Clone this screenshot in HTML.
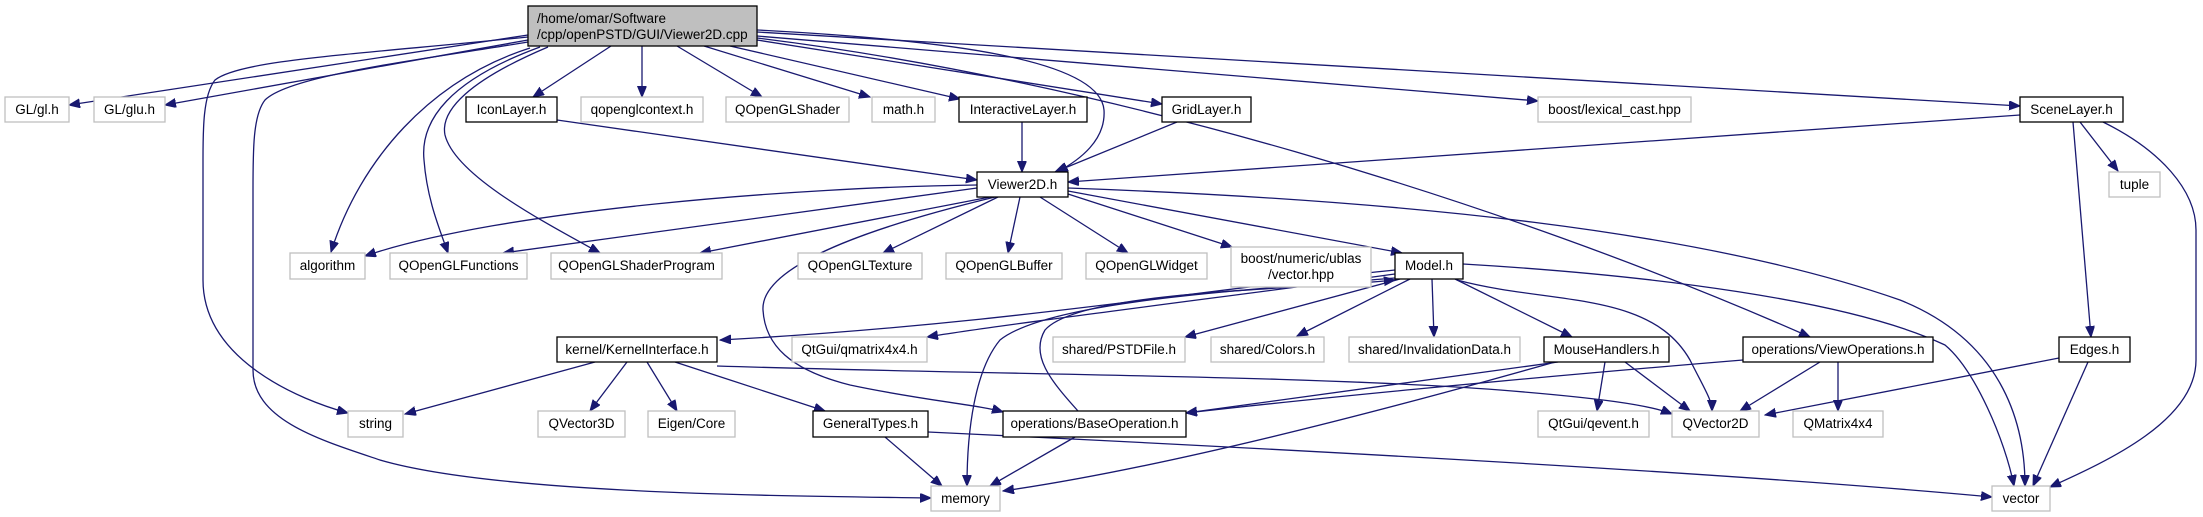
<!DOCTYPE html>
<html><head><meta charset="utf-8"><style>
html,body{margin:0;padding:0;background:#fff;}
svg{display:block;}
text{font-family:"Liberation Sans",Arial,sans-serif;font-size:13.5px;fill:#000;}
.e{fill:none;stroke:#191970;stroke-width:1.3;}
.g{fill:#fff;stroke:#bfbfbf;stroke-width:1.3;}
.b{fill:#fff;stroke:#000;stroke-width:1.3;}
</style></head><body>
<svg width="2203" height="517" viewBox="0 0 2203 517" xmlns="http://www.w3.org/2000/svg">
<defs>
<marker id="a" markerWidth="12" markerHeight="10" refX="11" refY="4.5" orient="auto" markerUnits="userSpaceOnUse">
<path d="M0,0 L11,4.5 L0,9 z" fill="#191970" stroke="#191970"/>
</marker>
</defs>
<g marker-end="url(#a)">
<!-- root edges -->
<path class="e" d="M528,35 L69,105"/>
<path class="e" d="M528,40 L165,105"/>
<path class="e" d="M528,37 C350,55 240,60 215,80 C203,95 203,130 203,160 L203,280 C203,360 300,400 348,413"/>
<path class="e" d="M528,42 C420,60 290,75 265,100 C253,115 253,150 253,190 L253,370 C253,420 320,440 380,460 C500,495 800,496 931,498"/>
<path class="e" d="M530,48 C430,80 360,160 331,252"/>
<path class="e" d="M540,47 C450,80 420,120 424,160 C427,200 440,230 448,253"/>
<path class="e" d="M548,47 C470,80 440,110 445,135 C455,175 540,220 600,253"/>
<path class="e" d="M611,46 L533,97"/>
<path class="e" d="M642,46 L642,97"/>
<path class="e" d="M677,46 L762,97"/>
<path class="e" d="M704,46 L870,97"/>
<path class="e" d="M730,46 L960,99"/>
<path class="e" d="M757,30 C950,40 1100,60 1104,110 C1106,140 1080,160 1057,172"/>
<path class="e" d="M757,40 L1162,104"/>
<path class="e" d="M757,36 L1538,101"/>
<path class="e" d="M757,32 L2020,106"/>
<path class="e" d="M757,38 C1100,80 1500,200 1810,337"/>
<!-- into Viewer2D -->
<path class="e" d="M2020,115 L1068,182"/>
<path class="e" d="M557,120 L977,180"/>
<path class="e" d="M1022,122 L1022,172"/>
<path class="e" d="M1177,122 L1055,172"/>
<!-- Viewer2D edges -->
<path class="e" d="M977,185 C800,187 500,210 365,256"/>
<path class="e" d="M977,188 L503,253"/>
<path class="e" d="M990,197 L700,253"/>
<path class="e" d="M998,197 L883,253"/>
<path class="e" d="M1020,197 L1008,253"/>
<path class="e" d="M1040,197 L1128,253"/>
<path class="e" d="M1068,194 L1232,247"/>
<path class="e" d="M1068,191 L1402,253"/>
<path class="e" d="M995,197 C900,220 760,260 763,310 C765,345 790,370 850,385 C920,400 980,405 1003,412"/>
<path class="e" d="M1068,188 C1400,200 1700,230 1900,300 C2000,340 2025,420 2025,486"/>
<!-- Model edges -->
<path class="e" d="M1395,270 C1200,290 1000,325 720,340"/>
<path class="e" d="M1395,274 C1200,300 1000,325 927,337"/>
<path class="e" d="M1400,279 L1185,337"/>
<path class="e" d="M1410,279 L1297,336"/>
<path class="e" d="M1432,279 L1434,337"/>
<path class="e" d="M1455,279 L1572,337"/>
<path class="e" d="M1457,280 C1550,305 1650,290 1690,360 C1705,390 1712,400 1712,411"/>
<path class="e" d="M1463,264 C1650,275 1850,300 1945,345 C1975,370 2005,440 2014,486"/>
<path class="e" d="M1395,278 C1250,290 1050,300 1000,340 C975,370 967,430 967,486"/>
<path class="e" d="M1078,411 C1050,380 1030,355 1045,330 C1080,290 1300,290 1395,280"/>
<!-- kernel edges -->
<path class="e" d="M595,362 L405,414"/>
<path class="e" d="M627,362 L590,411"/>
<path class="e" d="M647,362 L677,411"/>
<path class="e" d="M675,362 L825,411"/>
<path class="e" d="M717,366 C1000,375 1300,375 1500,390 C1600,398 1650,405 1672,414"/>
<!-- GeneralTypes / BaseOperation -->
<path class="e" d="M885,437 L942,486"/>
<path class="e" d="M928,432 C1200,445 1700,470 1992,497"/>
<path class="e" d="M1075,437 L990,486"/>
<!-- MouseHandlers -->
<path class="e" d="M1558,362 L1186,413"/>
<path class="e" d="M1555,362 C1350,420 1150,470 1003,491"/>
<path class="e" d="M1605,362 L1597,411"/>
<path class="e" d="M1625,362 L1690,411"/>
<!-- ViewOperations -->
<path class="e" d="M1743,360 C1500,380 1300,400 1186,413"/>
<path class="e" d="M1820,362 L1740,411"/>
<path class="e" d="M1838,362 L1838,411"/>
<!-- Edges.h -->
<path class="e" d="M2059,358 L1765,415"/>
<path class="e" d="M2088,362 L2033,486"/>
<!-- SceneLayer -->
<path class="e" d="M2080,122 L2118,171"/>
<path class="e" d="M2073,122 L2091,337"/>
<path class="e" d="M2103,122 C2160,150 2196,190 2196,230 L2196,360 C2196,420 2110,460 2050,487"/>
</g>

<!-- nodes -->
<rect x="528" y="6" width="229" height="40" fill="#bfbfbf" stroke="#000" stroke-width="1.3"/>
<text x="537" y="23">/home/omar/Software</text>
<text x="537" y="39">/cpp/openPSTD/GUI/Viewer2D.cpp</text>

<g text-anchor="middle">
<rect class="g" x="5" y="97" width="64" height="25"/><text x="37" y="114">GL/gl.h</text>
<rect class="g" x="94" y="97" width="71" height="25"/><text x="129.5" y="114">GL/glu.h</text>
<rect class="b" x="466" y="97" width="91" height="25"/><text x="511.5" y="114">IconLayer.h</text>
<rect class="g" x="581" y="97" width="122" height="25"/><text x="642" y="114">qopenglcontext.h</text>
<rect class="g" x="726" y="97" width="123" height="25"/><text x="787.5" y="114">QOpenGLShader</text>
<rect class="g" x="872" y="97" width="63" height="25"/><text x="903.5" y="114">math.h</text>
<rect class="b" x="959" y="97" width="128" height="25"/><text x="1023" y="114">InteractiveLayer.h</text>
<rect class="b" x="1162" y="97" width="89" height="25"/><text x="1206.5" y="114">GridLayer.h</text>
<rect class="g" x="1538" y="97" width="153" height="25"/><text x="1614.5" y="114">boost/lexical_cast.hpp</text>
<rect class="b" x="2020" y="97" width="103" height="25"/><text x="2071.5" y="114">SceneLayer.h</text>
<rect class="g" x="2109" y="172" width="51" height="25"/><text x="2134.5" y="189">tuple</text>

<rect class="b" x="977" y="172" width="91" height="25"/><text x="1022.5" y="189">Viewer2D.h</text>

<rect class="g" x="290" y="253" width="75" height="26"/><text x="327.5" y="270">algorithm</text>
<rect class="g" x="390" y="253" width="137" height="26"/><text x="458.5" y="270">QOpenGLFunctions</text>
<rect class="g" x="551" y="253" width="171" height="26"/><text x="636.5" y="270">QOpenGLShaderProgram</text>
<rect class="g" x="798" y="253" width="124" height="26"/><text x="860" y="270">QOpenGLTexture</text>
<rect class="g" x="946" y="253" width="116" height="26"/><text x="1004" y="270">QOpenGLBuffer</text>
<rect class="g" x="1086" y="253" width="121" height="26"/><text x="1146.5" y="270">QOpenGLWidget</text>
<rect class="g" x="1231" y="247" width="140" height="40"/><text x="1301" y="263">boost/numeric/ublas</text><text x="1301" y="279">/vector.hpp</text>
<rect class="b" x="1395" y="253" width="68" height="26"/><text x="1429" y="270">Model.h</text>

<rect class="b" x="557" y="337" width="160" height="25"/><text x="637" y="354">kernel/KernelInterface.h</text>
<rect class="g" x="792" y="337" width="135" height="25"/><text x="859.5" y="354">QtGui/qmatrix4x4.h</text>
<rect class="g" x="1053" y="337" width="132" height="25"/><text x="1119" y="354">shared/PSTDFile.h</text>
<rect class="g" x="1211" y="337" width="113" height="25"/><text x="1267.5" y="354">shared/Colors.h</text>
<rect class="g" x="1349" y="337" width="171" height="25"/><text x="1434.5" y="354">shared/InvalidationData.h</text>
<rect class="b" x="1544" y="337" width="125" height="25"/><text x="1606.5" y="354">MouseHandlers.h</text>
<rect class="b" x="1743" y="337" width="190" height="25"/><text x="1838" y="354">operations/ViewOperations.h</text>
<rect class="b" x="2059" y="337" width="71" height="25"/><text x="2094.5" y="354">Edges.h</text>

<rect class="g" x="348" y="411" width="55" height="26"/><text x="375.5" y="428">string</text>
<rect class="g" x="538" y="411" width="87" height="26"/><text x="581.5" y="428">QVector3D</text>
<rect class="g" x="648" y="411" width="87" height="26"/><text x="691.5" y="428">Eigen/Core</text>
<rect class="b" x="813" y="411" width="115" height="26"/><text x="870.5" y="428">GeneralTypes.h</text>
<rect class="b" x="1003" y="411" width="183" height="26"/><text x="1094.5" y="428">operations/BaseOperation.h</text>
<rect class="g" x="1538" y="411" width="111" height="26"/><text x="1593.5" y="428">QtGui/qevent.h</text>
<rect class="g" x="1672" y="411" width="87" height="26"/><text x="1715.5" y="428">QVector2D</text>
<rect class="g" x="1793" y="411" width="90" height="26"/><text x="1838" y="428">QMatrix4x4</text>

<rect class="g" x="931" y="486" width="69" height="25"/><text x="965.5" y="503">memory</text>
<rect class="g" x="1992" y="486" width="58" height="25"/><text x="2021" y="503">vector</text>
</g>
</svg>
</body></html>
